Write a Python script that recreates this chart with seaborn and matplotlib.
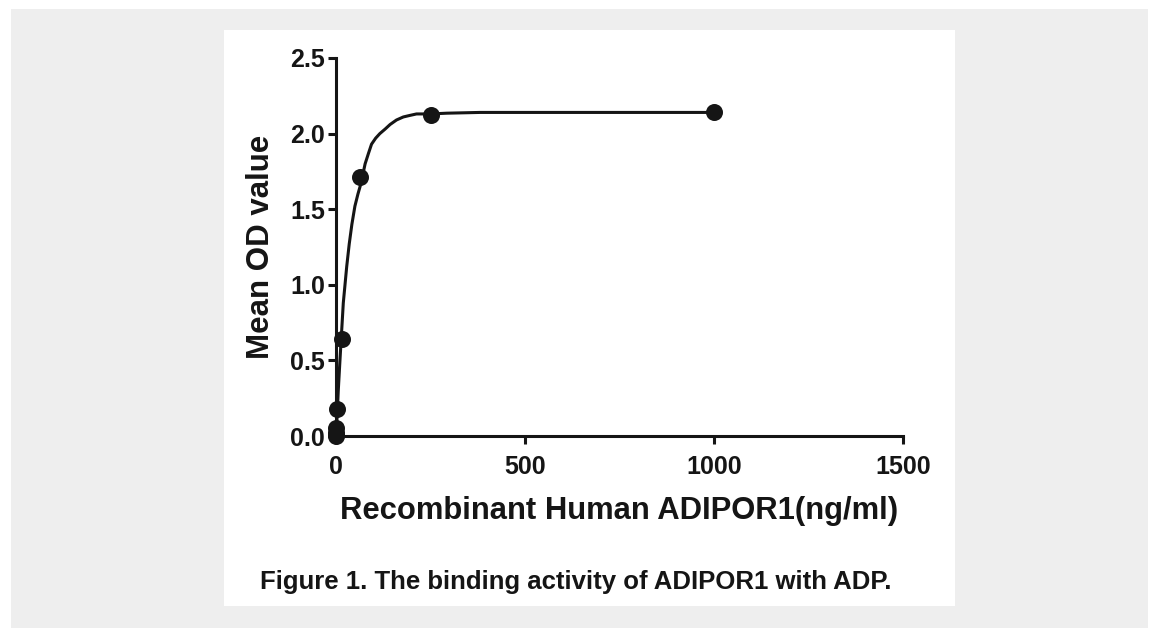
import matplotlib
matplotlib.use("Agg")
import matplotlib.pyplot as plt
import seaborn as sns
import pandas as pd
from matplotlib.patches import Rectangle

# ---- data ----
conc = [0.0, 0.061, 0.244, 0.977, 3.906, 15.625, 62.5, 250.0, 1000.0]
od = [0.00, 0.01, 0.02, 0.05, 0.18, 0.64, 1.71, 2.12, 2.14]

# fitted curve, points
curve_x = [0, 1, 2, 3.9, 6, 10, 15.1, 19.3, 28.3, 35, 42, 50, 58, 66, 77, 86, 94, 105, 116,
           130, 143, 160, 178, 195, 213, 250, 293, 381, 500, 750, 1000]
curve_y = [0.00, 0.03, 0.08, 0.18, 0.30, 0.48, 0.70, 0.88, 1.12, 1.27, 1.40, 1.52, 1.60, 1.67,
           1.80, 1.87, 1.93, 1.97, 2.00, 2.03, 2.06, 2.09, 2.11, 2.12, 2.13, 2.13, 2.135, 2.14,
           2.14, 2.14, 2.14]

xticks = [0, 500, 1000, 1500]
yticks = [0.0, 0.5, 1.0, 1.5, 2.0, 2.5]
xlabel = "Recombinant Human ADIPOR1(ng/ml)"
ylabel = "Mean OD value"
caption = "Figure 1. The binding activity of ADIPOR1 with ADP."

pts = pd.DataFrame({"conc": conc, "od": od})
fit = pd.DataFrame({"x": curve_x, "y": curve_y})

sns.set_theme(style="white")
plt.rcParams["font.family"] = ["Liberation Sans", "DejaVu Sans"]
plt.rcParams["font.weight"] = "bold"

W, H = 1155, 636
fig = plt.figure(figsize=(W / 100, H / 100), dpi=100)
fig.patch.set_facecolor("white")

# gray page + white panel
fig.add_artist(Rectangle((11 / W, 1 - 628 / H), (1148 - 11) / W, (628 - 9) / H,
                         transform=fig.transFigure, facecolor="#eeeeee", edgecolor="none", zorder=-2))
fig.add_artist(Rectangle((224 / W, 1 - 606 / H), (955 - 224) / W, (606 - 30) / H,
                         transform=fig.transFigure, facecolor="white", edgecolor="none", zorder=-1))

ax = fig.add_axes([336 / W, 1 - 436 / H, (903 - 336) / W, (436 - 58) / H])
ax.set_zorder(2)
ax.set_facecolor("none")
ink = "#151515"

sns.lineplot(data=fit, x="x", y="y", ax=ax, color=ink, linewidth=2.2,
             estimator=None, sort=False, clip_on=False)
sns.scatterplot(data=pts, x="conc", y="od", ax=ax, color=ink, s=150,
                edgecolor=ink, linewidth=0, clip_on=False, zorder=5)

ax.set_xlim(0, 1500)
ax.set_ylim(0, 2.5)
ax.set_xticks(xticks)
ax.set_yticks(yticks)
ax.set_xticklabels([str(v) for v in xticks], fontsize=18, fontweight="bold", color=ink)
ax.set_yticklabels([f"{v:.1f}" for v in yticks], fontsize=18, fontweight="bold", color=ink)

for s in ["top", "right"]:
    ax.spines[s].set_visible(False)
for s in ["left", "bottom"]:
    ax.spines[s].set_linewidth(2.2)
    ax.spines[s].set_color(ink)
ax.tick_params(axis="both", direction="out", length=6, width=2.2, color=ink,
               bottom=True, left=True)
ax.tick_params(axis="y", pad=2)
ax.tick_params(axis="x", pad=8)

ax.set_xlabel(xlabel, fontsize=22.3, fontweight="bold", color=ink, labelpad=12)
ax.set_ylabel(ylabel, fontsize=22.5, fontweight="bold", color=ink, labelpad=10)
ax.grid(False)

fig.text(576 / W, 1 - 582 / H, caption, ha="center", va="center",
         fontsize=18.5, fontweight="bold", color=ink)

fig.savefig("out.png", dpi=100)
